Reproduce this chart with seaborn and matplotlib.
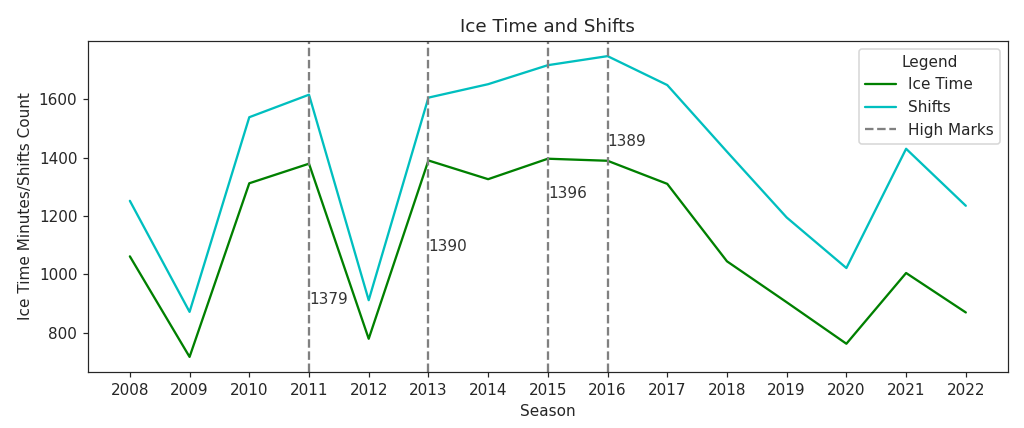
import numpy as np
import pandas as pd
import matplotlib
matplotlib.use('Agg')
import matplotlib.pyplot as plt
import seaborn as sns

# season data
seasons = [2008, 2009, 2010, 2011, 2012, 2013, 2014, 2015,
           2016, 2017, 2018, 2019, 2020, 2021, 2022]
ice_time = [1062, 718, 1312, 1379, 780, 1390, 1326, 1396,
            1389, 1310, 1045, 905, 763, 1005, 870]
shifts = [1252, 872, 1538, 1615, 912, 1605, 1651, 1716,
          1747, 1648, 1420, 1195, 1022, 1430, 1235]

# high marks and where their labels sit
high_seasons = [2011, 2013, 2015, 2016]
high_values = [1379, 1390, 1396, 1389]
label_heights = [900, 1080, 1260, 1440]

df = pd.DataFrame({'Season': seasons, 'Ice Time': ice_time, 'Shifts': shifts})

sns.set_style('ticks')
plt.rcParams['font.family'] = ['DejaVu Sans']

DPI = 110
fig, ax = plt.subplots(figsize=(1024 / DPI, 428 / DPI), dpi=DPI)
fig.subplots_adjust(left=0.086, right=0.984, top=0.904, bottom=0.131)

sns.lineplot(data=df, x='Season', y='Ice Time', color='green',
             label='Ice Time', ax=ax)
sns.lineplot(data=df, x='Season', y='Shifts', color='c',
             label='Shifts', ax=ax)

for i, (yr, val) in enumerate(zip(high_seasons, high_values)):
    ax.axvline(yr, color='gray', linestyle='--',
               label='High Marks' if i == 0 else None)
    ax.text(yr, label_heights[i], str(val), fontsize=10, color='#333333')

ax.set_xticks(seasons)
ax.set_xlabel('Season')
ax.set_ylabel('Ice Time Minutes/Shifts Count')
ax.set_title('Ice Time and Shifts')
ax.legend(title='Legend', loc='upper right')

plt.savefig('out.png', dpi=DPI)
plt.close()
